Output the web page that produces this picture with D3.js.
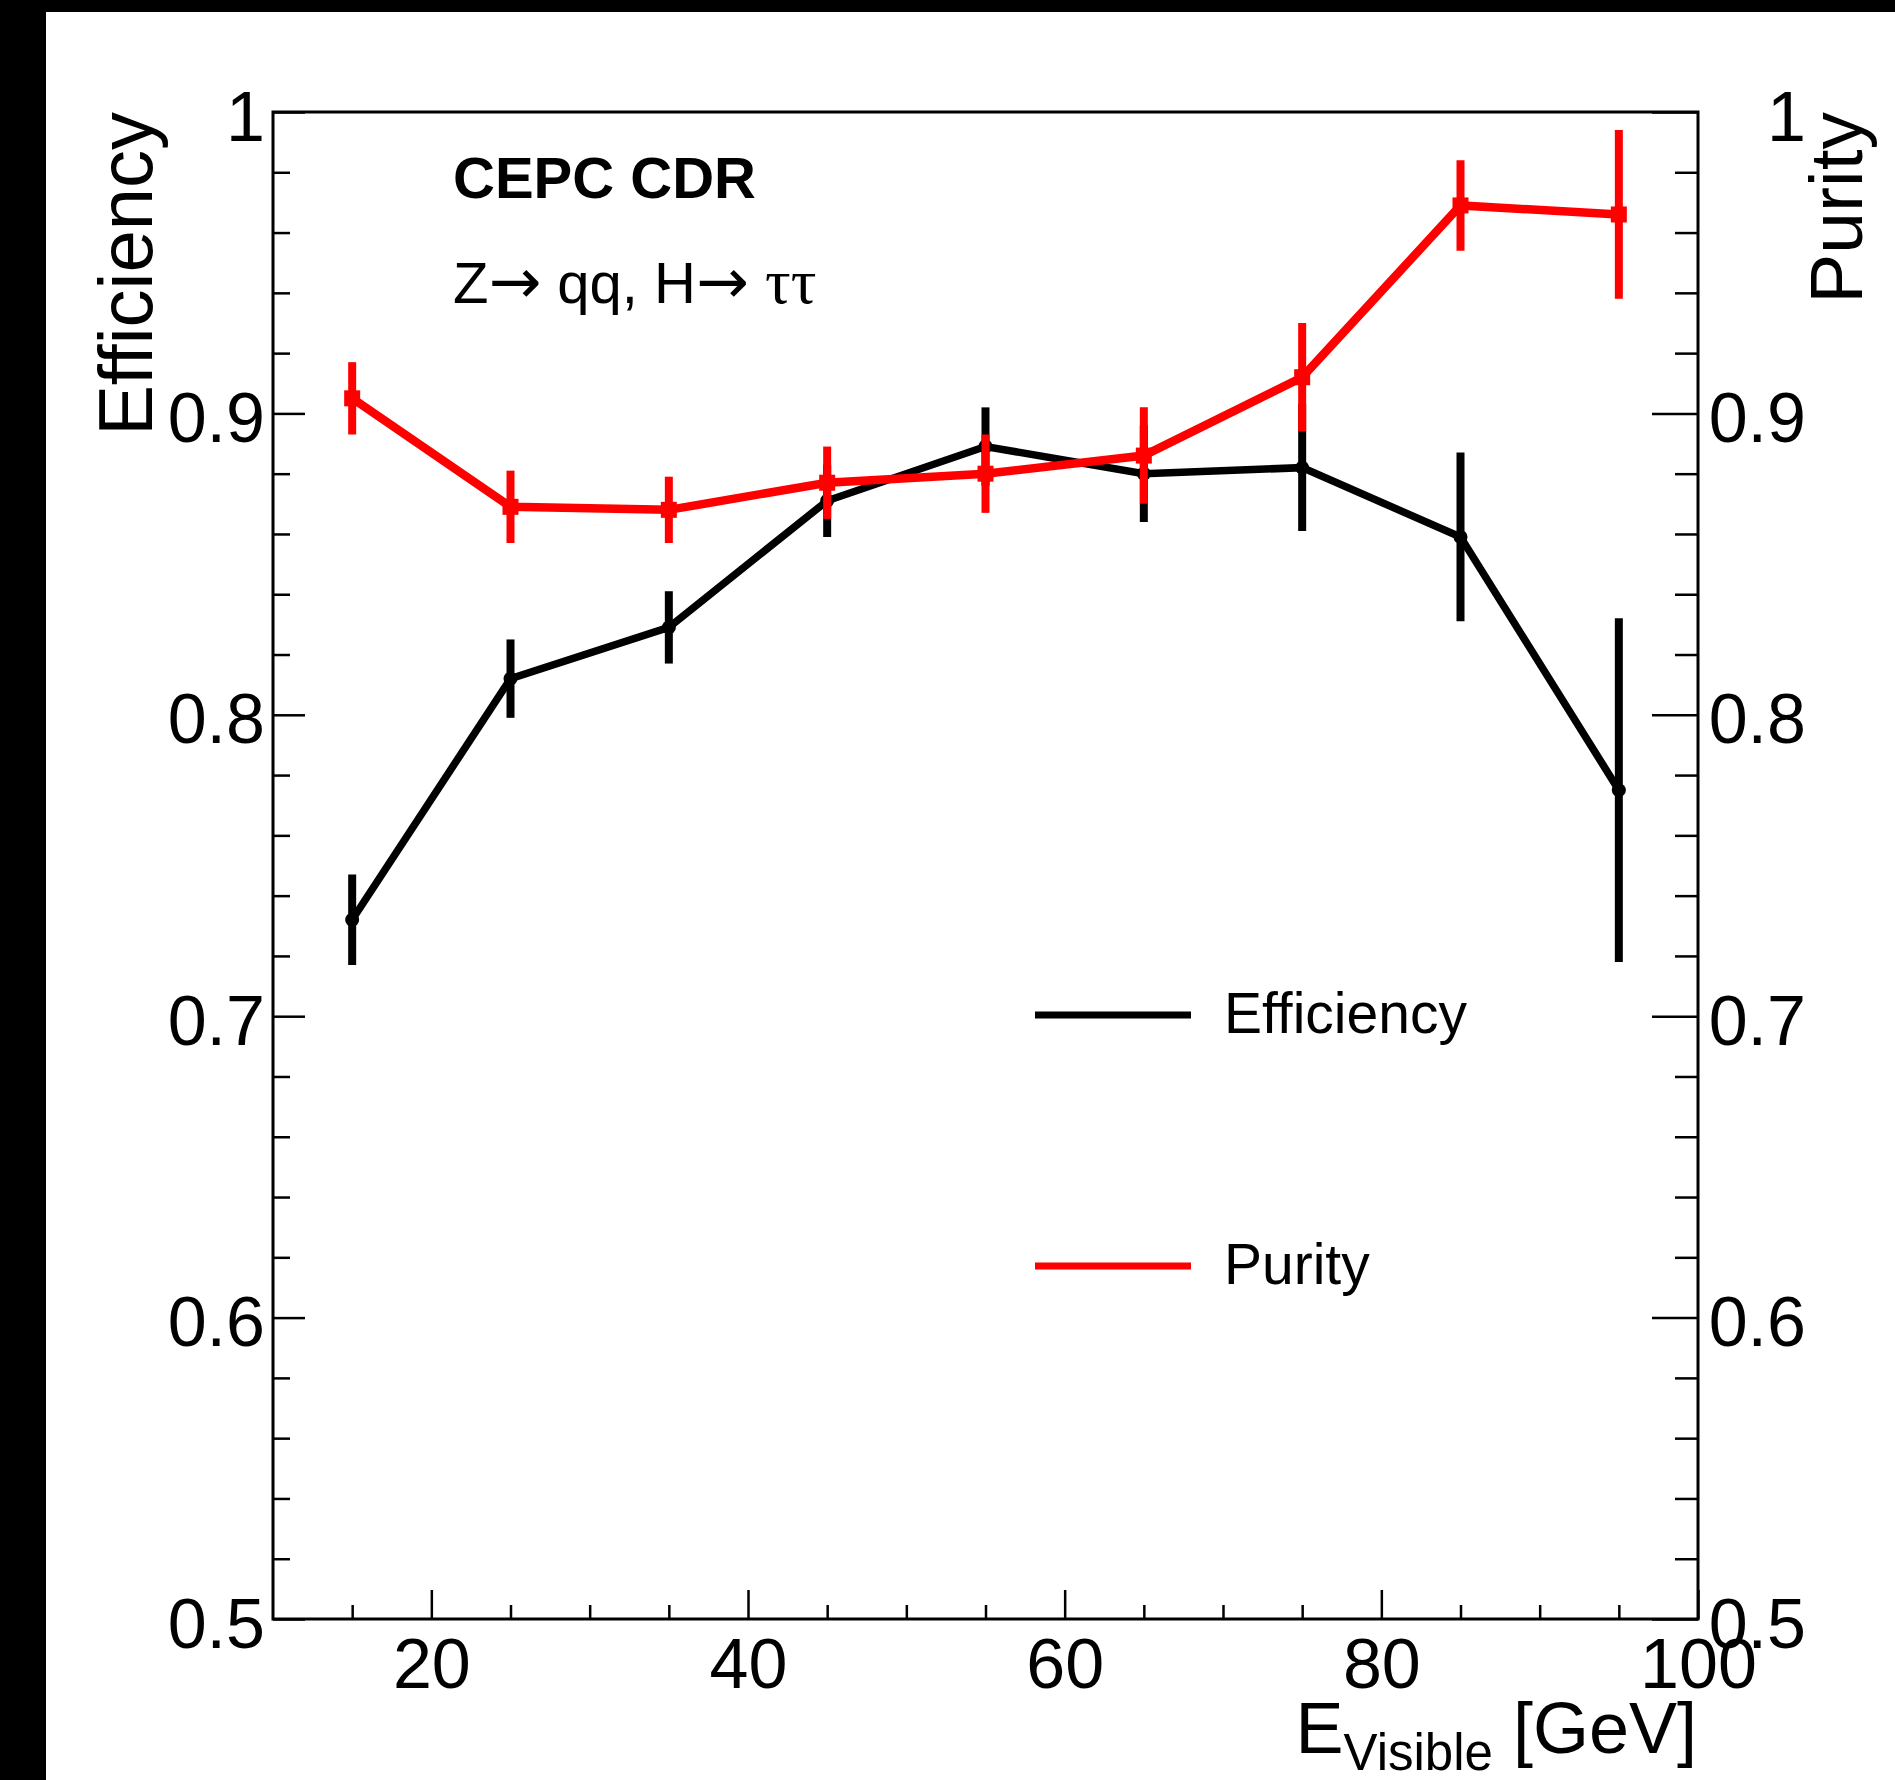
<!DOCTYPE html>
<html>
<head>
<meta charset="utf-8">
<script src="https://cdn.jsdelivr.net/npm/d3@7"></script>
<style>
  html, body { margin: 0; padding: 0; background: #000; }
  svg { display: block; }
  text { font-family: "Liberation Sans", Arial, Helvetica, sans-serif; fill: #000; }
</style>
</head>
<body>
<svg id="chart" width="1895" height="1780"></svg>
<script>
// Visible-energy bins (bin centres, GeV)
const energy = [15, 25, 35, 45, 55, 65, 75, 85, 95];
// Selection efficiency and its uncertainty per bin
const efficiency    = [0.732, 0.812, 0.829, 0.871, 0.889, 0.880, 0.882, 0.859, 0.775];
const efficiencyErr = [0.015, 0.013, 0.012, 0.012, 0.013, 0.016, 0.021, 0.028, 0.057];
// Sample purity and its uncertainty per bin
const purity    = [0.905, 0.869, 0.868, 0.877, 0.880, 0.886, 0.912, 0.969, 0.966];
const purityErr = [0.012, 0.012, 0.011, 0.012, 0.013, 0.016, 0.018, 0.015, 0.028];
// Axis ticks and labels
const xMajorTicks = [20, 40, 60, 80, 100];
const xMinorTicks = [15, 25, 30, 35, 45, 50, 55, 65, 70, 75, 85, 90, 95];
const yMajorTicks = [0.5, 0.6, 0.7, 0.8, 0.9, 1.0];
const yMinorTicks = d3.range(0.52, 1.0, 0.02).filter(v => Math.abs(v * 10 - Math.round(v * 10)) > 1e-6);

const svg = d3.select("#chart");

// Page: black strips on left/top, white pad
svg.append("rect").attr("x", 0).attr("y", 0).attr("width", 1895).attr("height", 1780).attr("fill", "#000");
svg.append("rect").attr("x", 46).attr("y", 12).attr("width", 1895 - 46).attr("height", 1780 - 12).attr("fill", "#fff");

const frame = { left: 273, right: 1698, top: 112, bottom: 1619 };

const x = d3.scaleLinear().domain([10, 100]).range([frame.left, frame.right]);
const y = d3.scaleLinear().domain([0.5, 1.0]).range([frame.bottom, frame.top]);

const labelFont = 70;
const titleFont = 75;

// ---- Axes ----
function styleAxis(g) {
  g.select(".domain").remove();
  g.selectAll(".tick line").attr("stroke", "#000").attr("stroke-width", 2.5);
  g.selectAll("text").style("font-size", labelFont + "px").attr("fill", "#000");
}

// bottom axis
svg.append("g")
  .attr("transform", `translate(0,${frame.bottom})`)
  .call(d3.axisBottom(x).tickValues(xMinorTicks).tickSizeInner(-14).tickSizeOuter(0).tickFormat(""))
  .call(styleAxis);
svg.append("g")
  .attr("transform", `translate(0,${frame.bottom})`)
  .call(d3.axisBottom(x).tickValues(xMajorTicks).tickSizeInner(-29).tickSizeOuter(0).tickPadding(19).tickFormat(d3.format("d")))
  .call(styleAxis);

// left axis (efficiency)
svg.append("g")
  .attr("transform", `translate(${frame.left},0)`)
  .call(d3.axisLeft(y).tickValues(yMinorTicks).tickSizeInner(-17).tickSizeOuter(0).tickFormat(""))
  .call(styleAxis);
const yLeftG = svg.append("g")
  .attr("transform", `translate(${frame.left},0)`)
  .call(d3.axisLeft(y).tickValues(yMajorTicks).tickSizeInner(-32).tickSizeOuter(0).tickPadding(8).tickFormat(d => d === 1 ? "1" : d3.format(".1f")(d)))
  .call(styleAxis);
yLeftG.selectAll("text").attr("dy", null).attr("y", 28);

// right axis (purity)
svg.append("g")
  .attr("transform", `translate(${frame.right},0)`)
  .call(d3.axisRight(y).tickValues(yMinorTicks).tickSizeInner(-23).tickSizeOuter(0).tickFormat(""))
  .call(styleAxis);
const yRightG = svg.append("g")
  .attr("transform", `translate(${frame.right},0)`)
  .call(d3.axisRight(y).tickValues(yMajorTicks).tickSizeInner(-46).tickSizeOuter(0).tickFormat(d => d === 1 ? "1" : d3.format(".1f")(d)))
  .call(styleAxis);
yRightG.selectAll("text").attr("text-anchor", "end").attr("x", 108).attr("dy", null).attr("y", 28);

// frame
svg.append("rect")
  .attr("x", frame.left).attr("y", frame.top)
  .attr("width", frame.right - frame.left).attr("height", frame.bottom - frame.top)
  .attr("fill", "none").attr("stroke", "#000").attr("stroke-width", 3);

// ---- Series ----
function drawSeries(values, errors, color, lineWidth, markerType) {
  const pts = energy.map((e, i) => ({ e, v: values[i], err: errors[i] }));
  const g = svg.append("g");
  g.append("path")
    .datum(pts)
    .attr("fill", "none")
    .attr("stroke", color)
    .attr("stroke-width", lineWidth)
    .attr("stroke-linejoin", "miter")
    .attr("d", d3.line().x(d => x(d.e)).y(d => y(d.v)));
  g.selectAll("line.err")
    .data(pts)
    .join("line")
    .attr("class", "err")
    .attr("x1", d => x(d.e)).attr("x2", d => x(d.e))
    .attr("y1", d => y(d.v + d.err)).attr("y2", d => y(d.v - d.err))
    .attr("stroke", color)
    .attr("stroke-width", 8);
  if (markerType === "circle") {
    g.selectAll("circle.mk").data(pts).join("circle")
      .attr("class", "mk")
      .attr("cx", d => x(d.e)).attr("cy", d => y(d.v)).attr("r", 7)
      .attr("fill", color);
  } else {
    g.selectAll("rect.mk").data(pts).join("rect")
      .attr("class", "mk")
      .attr("x", d => x(d.e) - 8).attr("y", d => y(d.v) - 8)
      .attr("width", 16).attr("height", 16)
      .attr("fill", color);
  }
}

drawSeries(efficiency, efficiencyErr, "#000000", 7.5, "circle");
drawSeries(purity, purityErr, "#ff0000", 8.5, "square");

// ---- Axis titles ----
svg.append("text")
  .attr("transform", `translate(152,${frame.top}) rotate(-90)`)
  .attr("text-anchor", "end")
  .style("font-size", "76px")
  .text("Efficiency");

svg.append("text")
  .attr("transform", `translate(1862,${frame.top}) rotate(-90)`)
  .attr("text-anchor", "end")
  .style("font-size", titleFont + "px")
  .text("Purity");

const xTitle = svg.append("text")
  .attr("x", 1697).attr("y", 1753)
  .attr("text-anchor", "end")
  .style("font-size", "72px");
xTitle.append("tspan").text("E");
xTitle.append("tspan").attr("dy", 17).style("font-size", "51px").text("Visible");
xTitle.append("tspan").attr("dy", -17).text(" [GeV]");

// ---- Labels ----
svg.append("text")
  .attr("x", 453).attr("y", 198)
  .style("font-size", "58px").style("font-weight", "bold")
  .text("CEPC CDR");

const proc = svg.append("text")
  .attr("x", 453).attr("y", 303)
  .style("font-size", "58px");
proc.append("tspan").text("Z");
proc.append("tspan").style("font-family", "'DejaVu Sans', sans-serif").style("font-size", "63px").text("\u2192");
proc.append("tspan").text(" qq, H");
proc.append("tspan").style("font-family", "'DejaVu Sans', sans-serif").style("font-size", "63px").text("\u2192");
proc.append("tspan").text(" ");
proc.append("tspan").style("font-family", "'Liberation Serif', serif").style("font-size", "64px").text("\u03C4\u03C4");

// ---- Legend ----
const legendItems = [
  { label: "Efficiency", color: "#000000", y: 1015 },
  { label: "Purity", color: "#ff0000", y: 1266 }
];
const leg = svg.append("g");
leg.selectAll("line").data(legendItems).join("line")
  .attr("x1", 1035).attr("x2", 1191)
  .attr("y1", d => d.y).attr("y2", d => d.y)
  .attr("stroke", d => d.color).attr("stroke-width", 7);
leg.selectAll("text").data(legendItems).join("text")
  .attr("x", 1224).attr("y", d => d.y + 18)
  .style("font-size", "57px")
  .text(d => d.label);
</script>
</body>
</html>
